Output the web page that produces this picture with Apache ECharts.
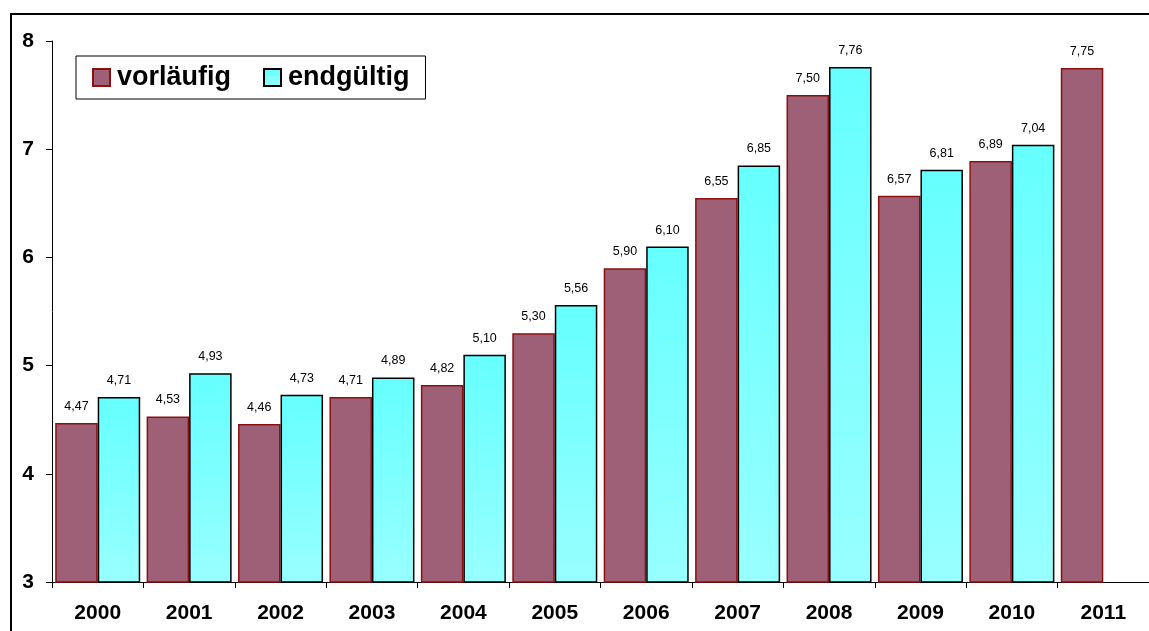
<!DOCTYPE html>
<html>
<head>
<meta charset="utf-8">
<script src="https://cdn.jsdelivr.net/npm/echarts@6/dist/echarts.min.js"></script>
<style>
html,body{margin:0;padding:0;background:#fff;}
#chart{width:1149px;height:631px;}
</style>
</head>
<body>
<div id="chart"></div>
<script>
const categories = ['2000','2001','2002','2003','2004','2005','2006','2007','2008','2009','2010','2011'];
const vorlaeufig = [4.47,4.53,4.46,4.71,4.82,5.30,5.90,6.55,7.50,6.57,6.89,7.75];
const endgueltig = [4.71,4.93,4.73,4.89,5.10,5.56,6.10,6.85,7.76,6.81,7.04,null];
const seriesNames = ['vorläufig','endgültig'];

const chart = echarts.init(document.getElementById('chart'));
const fmt = p => p.value == null ? '' : p.value.toFixed(2).replace('.', ',');
const font = 'Liberation Sans, Arial, sans-serif';
chart.setOption({
  animation: false,
  backgroundColor: '#fff',
  graphic: [{
    type: 'rect', silent: true, z: -1,
    shape: {x: 11, y: 14, width: 1300, height: 800},
    style: {fill: 'none', stroke: '#000', lineWidth: 2}
  }],
  legend: {
    left: 76, top: 56,
    orient: 'horizontal',
    icon: 'rect',
    itemWidth: 17, itemHeight: 17, itemGap: 32,
    padding: [8, 16, 8, 16],
    borderColor: '#000', borderWidth: 1,
    backgroundColor: '#fff',
    textStyle: {fontFamily: font, fontWeight: 'bold', fontSize: 27, color: '#000', padding: [0,0,0,2]},
    data: seriesNames
  },
  grid: {left: 52, right: -7, top: 41, bottom: 49},
  xAxis: {
    type: 'category',
    data: categories,
    axisLine: {lineStyle: {color: '#000', width: 1}},
    axisTick: {show: true, length: 6, lineStyle: {color: '#000'}},
    axisLabel: {fontFamily: font, fontWeight: 'bold', fontSize: 21, color: '#000', margin: 21}
  },
  yAxis: {
    type: 'value', min: 3, max: 8, interval: 1,
    splitLine: {show: false},
    axisLine: {show: true, lineStyle: {color: '#000', width: 1}},
    axisTick: {show: true, length: 6, lineStyle: {color: '#000'}},
    axisLabel: {fontFamily: font, fontWeight: 'bold', fontSize: 21, color: '#000', margin: 18}
  },
  series: [{
    name: seriesNames[0], type: 'bar', data: vorlaeufig,
    barGap: '0%', barCategoryGap: '7%',
    itemStyle: {color: '#9E6077', borderColor: '#8B1010', borderWidth: 1.5},
    label: {show: true, position: 'top', distance: 10, formatter: fmt, fontFamily: font, fontSize: 12.5, color: '#000'}
  },{
    name: seriesNames[1], type: 'bar', data: endgueltig,
    itemStyle: {
      color: new echarts.graphic.LinearGradient(0,0,0,1,[{offset:0,color:'#66FFFF'},{offset:1,color:'#99FFFF'}]),
      borderColor: '#000', borderWidth: 1.5
    },
    label: {show: true, position: 'top', distance: 10, formatter: fmt, fontFamily: font, fontSize: 12.5, color: '#000'}
  }]
});
</script>
</body>
</html>
